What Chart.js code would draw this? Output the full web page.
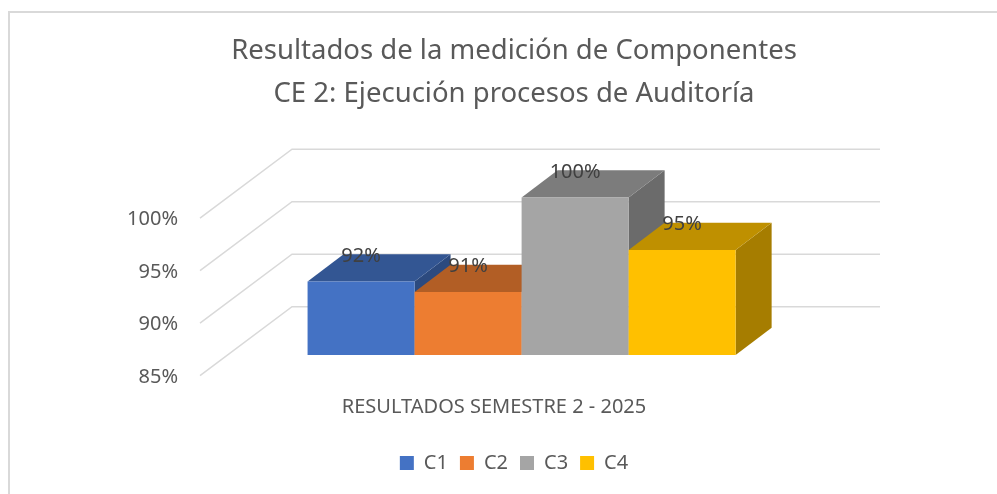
<!DOCTYPE html>
<html>
<head>
<meta charset="utf-8">
<script src="https://cdn.jsdelivr.net/npm/chart.js@4.4.1/dist/chart.umd.min.js"></script>
<style>
  html, body { margin: 0; padding: 0; background: #fff; overflow: hidden; }
  #frame { position: absolute; left: 8px; top: 11px; width: 1008px; height: 490px;
           border-left: 2px solid #d9d9d9; border-top: 2px solid #d9d9d9; }
  canvas { display: block; }
</style>
</head>
<body>
<div id="frame"><canvas id="myChart" width="1008" height="481"></canvas></div>
<script>
const categories = ["RESULTADOS SEMESTRE 2 - 2025"];
const seriesNames = ["C1", "C2", "C3", "C4"];
const seriesValues = [0.92, 0.91, 1.00, 0.95];
const yTicks = [0.85, 0.90, 0.95, 1.00];
const frontColors = ["#4472C4", "#ED7D31", "#A5A5A5", "#FFC000"];

// 3d look: depth of the bars, back wall and front edge of the floor (px)
const DX = 36, DY = -27.3;
const WALL_X = 64.4, WALL_Y = -48.3;
const EDGE_X = -27.6, EDGE_Y = 20.7;

Chart.defaults.font.family = "'Noto Sans', sans-serif";

function shade(hex, f) {
  const n = parseInt(hex.slice(1), 16);
  const r = Math.round(((n >> 16) & 255) * f);
  const g = Math.round(((n >> 8) & 255) * f);
  const b = Math.round((n & 255) * f);
  return `rgb(${r},${g},${b})`;
}

function poly(ctx, pts, color) {
  ctx.beginPath();
  ctx.moveTo(pts[0][0], pts[0][1]);
  for (let k = 1; k < pts.length; k++) ctx.lineTo(pts[k][0], pts[k][1]);
  ctx.closePath();
  ctx.fillStyle = color;
  ctx.fill();
}

const bars3d = {
  id: "bars3d",
  beforeDatasetsDraw(chart) {
    const { ctx, chartArea } = chart;
    const y = chart.scales.y;
    ctx.save();

    // walls
    ctx.strokeStyle = "#d9d9d9";
    ctx.lineWidth = 1.5;
    y.ticks.forEach(t => {
      const py = y.getPixelForValue(t.value);
      ctx.beginPath();
      ctx.moveTo(chartArea.left + EDGE_X, py + EDGE_Y);
      ctx.lineTo(chartArea.left + WALL_X, py + WALL_Y);
      ctx.lineTo(chartArea.right + WALL_X, py + WALL_Y);
      ctx.stroke();
    });

    // bars, left to right so the next front face hides the previous side
    const bars = [];
    chart.data.datasets.forEach((ds, i) => {
      chart.getDatasetMeta(i).data.forEach((el, j) => bars.push({ el, i, v: ds.data[j] }));
    });
    bars.sort((a, b) => a.el.x - b.el.x);
    const base = y.getPixelForValue(y.min);
    bars.forEach(({ el, i }) => {
      const c = frontColors[i];
      const l = el.x - el.width / 2, r = el.x + el.width / 2;
      const top = el.y;
      poly(ctx, [[r, top], [r + DX, top + DY], [r + DX, base + DY], [r, base]], shade(c, 0.65));
      poly(ctx, [[l, top], [r, top], [r + DX, top + DY], [l + DX, top + DY]], shade(c, 0.75));
      ctx.fillStyle = c;
      ctx.fillRect(l, top, r - l, base - top);
    });

    // value labels
    ctx.fillStyle = "#404040";
    ctx.font = "20px 'Noto Sans'";
    ctx.textAlign = "center";
    ctx.textBaseline = "middle";
    bars.forEach(({ el, v }) => {
      ctx.fillText(Math.round(v * 100) + "%", el.x, el.y + DY + 2);
    });
    ctx.restore();
    return false;
  }
};

const ctx = document.getElementById("myChart").getContext("2d");
new Chart(ctx, {
  type: "bar",
  data: {
    labels: categories,
    datasets: seriesNames.map((name, i) => ({
      label: name,
      data: [seriesValues[i]],
      backgroundColor: frontColors[i],
      borderWidth: 0,
      categoryPercentage: 0.728,
      barPercentage: 1
    }))
  },
  options: {
    responsive: false,
    animation: false,
    layout: { padding: { top: 0, left: 0, right: 0, bottom: 11 } },
    plugins: {
      title: {
        display: true,
        text: ["Resultados de la medición de Componentes", "CE 2: Ejecución procesos de Auditoría"],
        color: "#595959",
        font: { size: 27.5, weight: "normal", lineHeight: 43 / 27.5 },
        padding: { top: 16.5, bottom: 82 }
      },
      legend: {
        position: "bottom",
        labels: { boxWidth: 14, boxHeight: 14, padding: 12, color: "#595959", font: { size: 20 } }
      },
      tooltip: { enabled: false }
    },
    scales: {
      x: {
        grid: { display: false, drawTicks: false },
        border: { display: false },
        ticks: { color: "#595959", padding: 40, labelOffset: EDGE_X, maxRotation: 0, font: { size: 20 } },
        afterFit: s => { s.height = 86; }
      },
      y: {
        min: 0.85,
        max: 1.0,
        afterBuildTicks: s => { s.ticks = yTicks.map(v => ({ value: v })); },
        grid: { display: false, drawTicks: false },
        border: { display: false },
        ticks: {
          color: "#595959",
          padding: 49.6,
          labelOffset: 22,
          font: { size: 20 },
          callback: v => Math.round(v * 100) + "%"
        },
        afterFit: s => { s.width = 217.6; }
      },
      yRight: {
        position: "right",
        grid: { display: false, drawTicks: false },
        border: { display: false },
        ticks: { display: false },
        afterFit: s => { s.width = 202.4; }
      }
    }
  },
  plugins: [bars3d]
});
</script>
</body>
</html>
